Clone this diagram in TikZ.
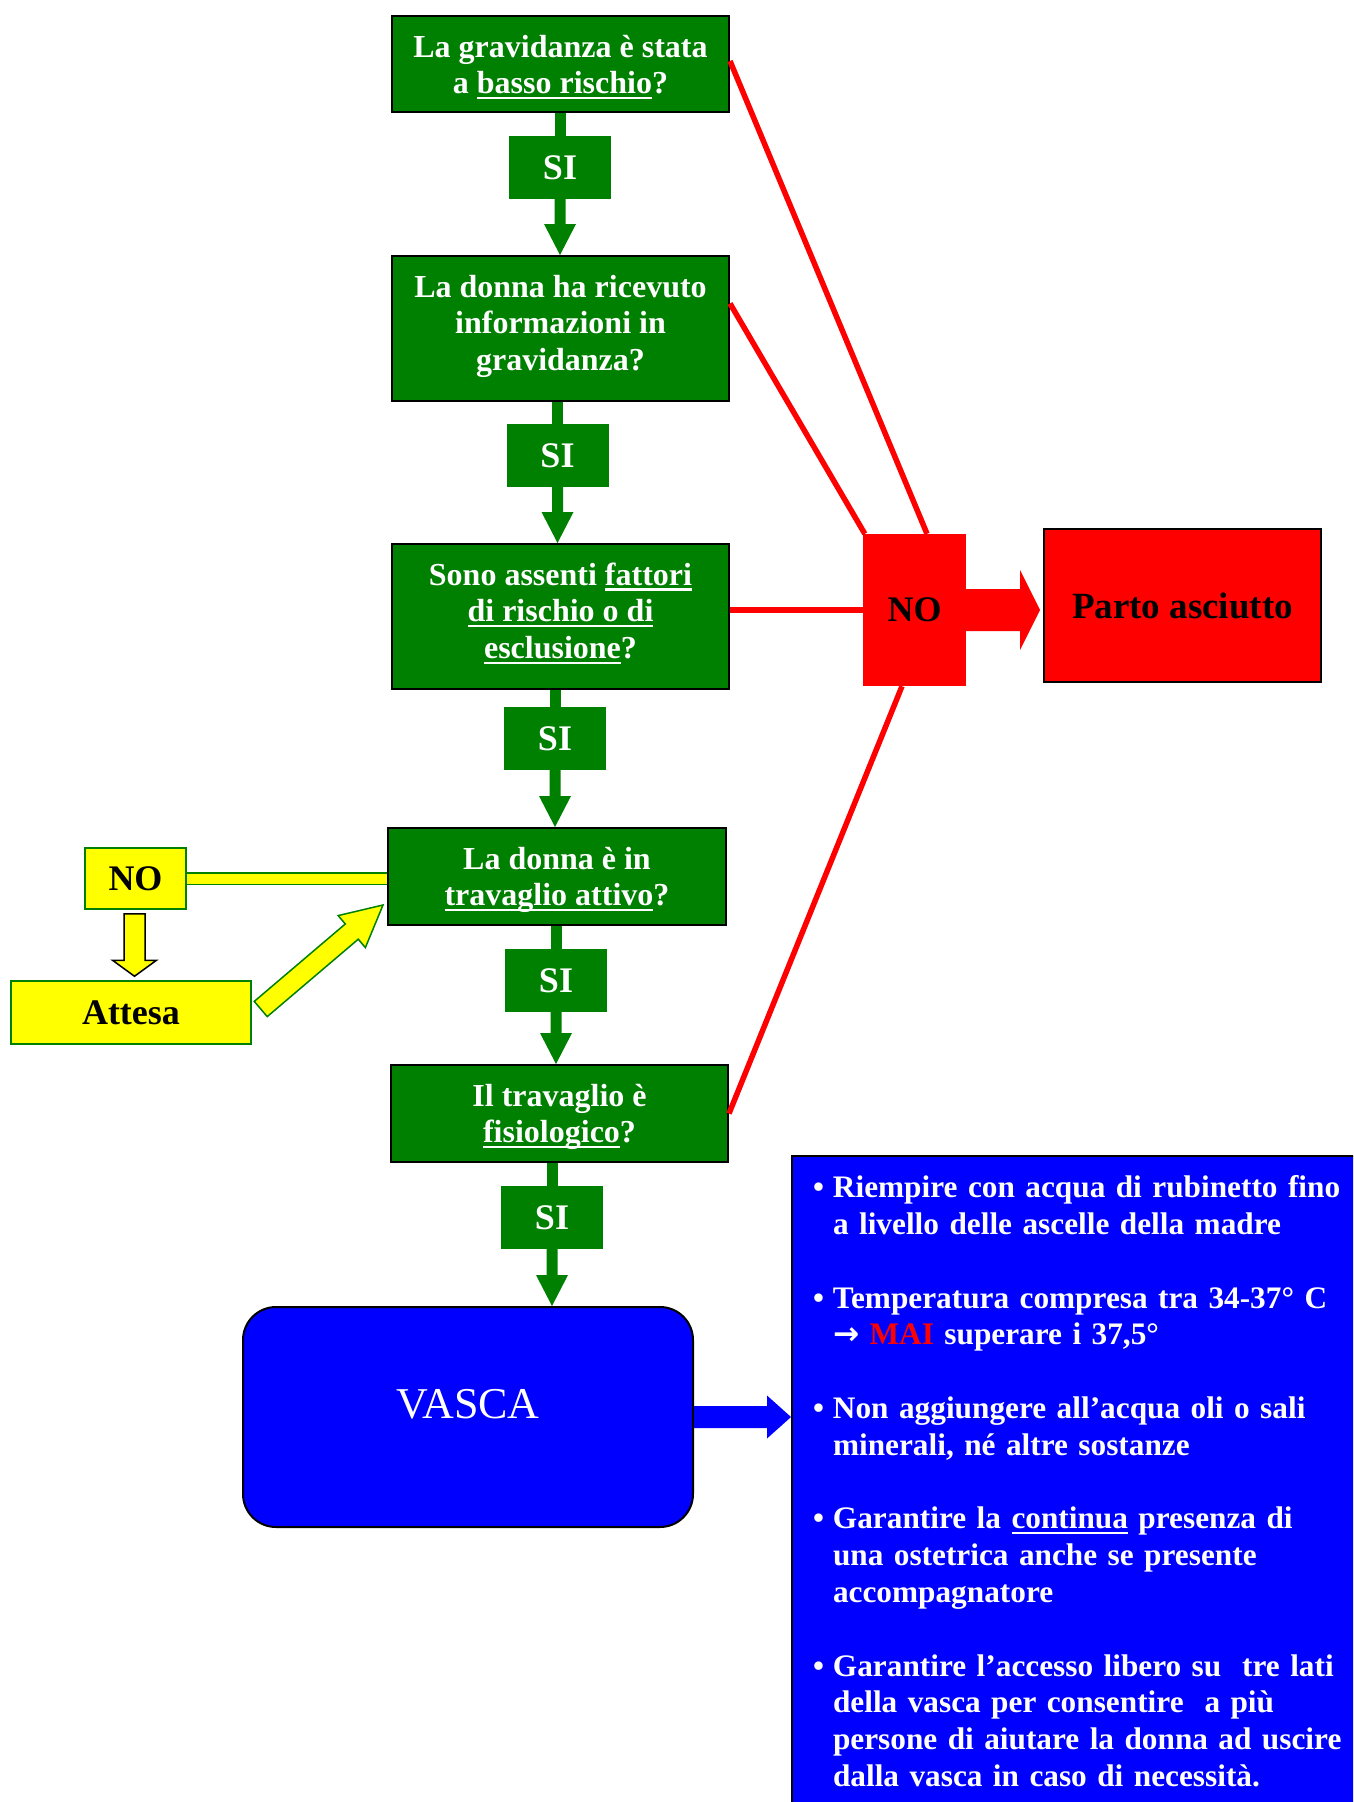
\documentclass[tikz,border=0pt]{standalone}
\usepackage{fontspec}
\setmainfont{Liberation Serif}
\newfontfamily\arrowfont{DejaVu Sans}
\usepackage{tikz}
\usetikzlibrary{calc}
\definecolor{gr}{RGB}{0,128,0}
\definecolor{rd}{RGB}{255,0,0}
\definecolor{bl}{RGB}{0,0,255}
\definecolor{yl}{RGB}{255,255,0}
\newsavebox{\ulbox}
\newcommand{\uln}[1]{\leavevmode\sbox\ulbox{#1}\rlap{\rule[-5.5pt]{\wd\ulbox}{2.5pt}}\usebox\ulbox}
\newcommand{\qtxt}[2]{\parbox[c][#1][t]{330pt}{\centering\rule{0pt}{41pt}#2}}
\newcommand{\lbul}{\hspace*{-4pt}•}
\newcommand{\blkarrow}[6]{%
	\coordinate (ba) at ($(#3)!#6!(#2)$);
	\path[#1] ($(#2)!#4!90:(#3)$) -- ($(ba)!#4!90:(#3)$) -- ($(ba)!#5!90:(#3)$) -- (#3)
		-- ($(ba)!#5!-90:(#3)$) -- ($(ba)!#4!-90:(#3)$) -- ($(#2)!#4!-90:(#3)$) -- cycle;}
\begin{document}
\begin{tikzpicture}[x=1pt, y=-1pt,
	qbox/.style={draw=black, line width=2pt, fill=gr, text=white, inner sep=0pt,
		minimum width=337pt, font={\fontsize{32}{36.8}\selectfont\bfseries}},
	sibox/.style={fill=gr, text=white, inner sep=0pt, minimum width=102pt, minimum height=63pt,
		font={\fontsize{36}{40}\selectfont\bfseries}},
	nobox/.style={fill=rd, text=black, inner sep=0pt, minimum width=103pt, minimum height=152pt,
		font={\fontsize{36}{40}\selectfont\bfseries}},
	partobox/.style={draw=black, line width=2pt, fill=rd, text=black, inner sep=0pt,
		minimum width=277pt, minimum height=153pt, font={\fontsize{37}{40}\selectfont\bfseries}},
	ybox/.style={draw=gr, line width=1.5pt, fill=yl, text=black, inner sep=0pt,
		font={\fontsize{36}{40}\selectfont\bfseries}},
	vascabox/.style={draw=black, line width=2pt, fill=bl, text=white, rounded corners=33pt,
		minimum width=450pt, minimum height=220pt, font={\fontsize{44}{48}\selectfont}},
	listbox/.style={draw=black, line width=2pt, fill=bl, text=white, align=left, inner xsep=25pt,
		inner ysep=16pt, text width=560pt, font={\fontsize{31.3}{36.8}\selectfont\bfseries}},
	gshaft/.style={draw=gr, line width=11pt},
	rline/.style={draw=rd, line width=5.5pt},
	ybar/.style={draw=gr, line width=1.5pt, double=yl, double distance=10pt},
	gfill/.style={fill=gr},
	rfill/.style={fill=rd},
	bfill/.style={fill=bl},
	yfill/.style={fill=yl, draw=gr, line width=1.5pt, line join=miter},
	ydfill/.style={fill=yl, draw=black, line width=1.5pt, line join=miter}]
	\useasboundingbox (0,0) rectangle (1353,1802);
	\clip (0,0) rectangle (1353,1802);
	\node[qbox] (q1) at (560.5,64) {\qtxt{96pt}{La gravidanza è stata\\a \uln{basso rischio}?}};
	\node[qbox] (q2) at (560.5,328.5) {\qtxt{145pt}{La donna ha ricevuto\\informazioni in\\gravidanza?}};
	\node[qbox] (q3) at (560.5,616.5) {\qtxt{145pt}{Sono assenti \uln{fattori}\\\uln{di rischio o di}\\\uln{esclusione}?}};
	\node[qbox, minimum width=338pt] (q4) at (557,876.5) {\qtxt{97pt}{La donna è in\\\uln{travaglio attivo}?}};
	\node[qbox] (q5) at (559.5,1113.5) {\qtxt{97pt}{Il travaglio è\\\uln{fisiologico}?}};
	\node[sibox] (s1) at (560,167.5) {SI};
	\node[sibox] (s2) at (557.5,455.5) {SI};
	\node[sibox] (s3) at (555,738.5) {SI};
	\node[sibox] (s4) at (556,980.5) {SI};
	\node[sibox] (s5) at (552,1217.5) {SI};
	\node[nobox] (no) at (914.5,610) {NO};
	\node[partobox] (parto) at (1182.5,605.5) {Parto asciutto};
	\node[ybox, minimum width=101pt, minimum height=61pt] (yno) at (135.5,878.5) {NO};
	\node[ybox, minimum width=240pt, minimum height=63pt] (att) at (131,1012.5) {\raisebox{-4pt}{Attesa}};
	\node[vascabox] (vasca) at (468,1417) {\raisebox{26pt}{VASCA}};
	\node[listbox, anchor=north west] (list) at (791,1155) {\noindent\begin{tabular}{@{}p{16pt}@{}l@{}}
		\lbul & Riempire con acqua di rubinetto fino\\
		& a livello delle ascelle della madre\\
		\\
		\lbul & Temperatura compresa tra 34-37° C\\
		& {\arrowfont →} \textcolor{rd}{MAI} superare i 37,5°\\
		\\
		\lbul & Non aggiungere all’acqua oli o sali\\
		& minerali, né altre sostanze\\
		\\
		\lbul & Garantire la \uln{continua} presenza di\\
		& una ostetrica anche se presente\\
		& accompagnatore\\
		\\
		\lbul & Garantire l’accesso libero su\ \ tre lati\\
		& della vasca per consentire\ \ a più\\
		& persone di aiutare la donna ad uscire\\
		& dalla vasca in caso di necessità.
	\end{tabular}};
	\foreach \a/\b in {q1/s1, q2/s2, q3/s3, q4/s4, q5/s5}
		\draw[gshaft] (\b.north |- \a.south) -- (\b.north);
	\foreach \a/\b in {s1/q2, s2/q3, s3/q4, s4/q5, s5/vasca}
		\blkarrow{gfill}{\a.south}{\a.south |- \b.north}{5.5pt}{16pt}{31pt};
	\draw[rline] ($(q1.east)+(0,-3)$) -- ($(no.north)+(12.5,0)$);
	\draw[rline] ($(q2.east)+(0,-25)$) -- ($(no.north west)+(2,0)$);
	\draw[rline] (q3.east |- no.west) -- (no.west);
	\draw[rline] (q5.east) -- ($(no.south)+(-12.5,0)$);
	\coordinate (ptip) at ($(no.east -| parto.west)+(-3,0)$);
	\blkarrow{rfill}{no.east}{ptip}{21pt}{40pt}{20pt};
	\blkarrow{bfill}{vasca.east}{vasca.east -| list.west}{11pt}{21.5pt}{24pt};
	\draw[ybar] (yno.east) -- (yno.east -| q4.west);
	\coordinate (yt) at ($(yno.south)+(-1,4)$);
	\coordinate (yh) at ($(yt |- att.north)+(0,-4)$);
	\blkarrow{ydfill}{yt}{yh}{10.5pt}{22pt}{16pt};
	\coordinate (dt) at ($(att.east)+(9,-3.5)$);
	\coordinate (dh) at ($(q4.south west)+(-4,-21)$);
	\blkarrow{yfill}{dt}{dh}{10pt}{21pt}{41pt};
\end{tikzpicture}
\end{document}
